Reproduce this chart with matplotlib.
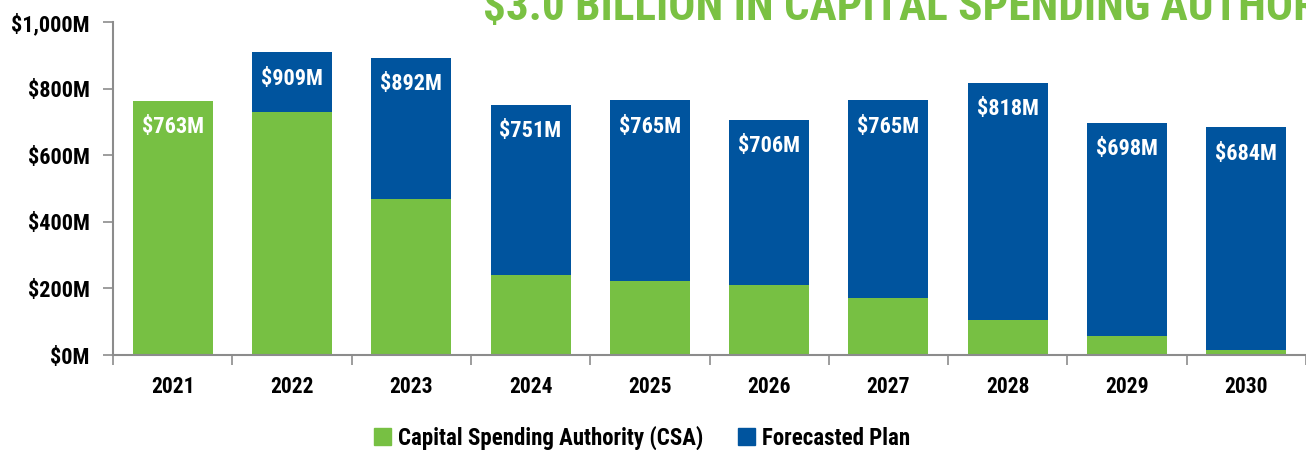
import matplotlib.pyplot as plt
import numpy as np
from matplotlib.ticker import FuncFormatter, FixedLocator
from matplotlib.patches import Patch
from matplotlib import font_manager

years = ["2021", "2022", "2023", "2024", "2025", "2026", "2027", "2028", "2029", "2030"]
totals = [763, 909, 892, 751, 765, 706, 765, 818, 698, 684]
csa = [763, 730, 467, 240, 223, 210, 171, 105, 57, 15]
forecast = [t - c for t, c in zip(totals, csa)]
value_labels = ["$763M", "$909M", "$892M", "$751M", "$765M", "$706M", "$765M", "$818M", "$698M", "$684M"]

green = "#77C043"
blue = "#00549E"
axis_gray = "#8C8C8C"

# narrow bold face, like the condensed one in the source deck
names = {f.name for f in font_manager.fontManager.ttflist}
prefs = ["Roboto Condensed", "Barlow Condensed", "Oswald", "Archivo Narrow",
         "Fira Sans Condensed", "Liberation Sans Narrow"]
fam = [n for n in prefs if n in names][:1] + ["DejaVu Sans"]
plt.rcParams["font.family"] = fam

fig = plt.figure(figsize=(13.06, 4.5), dpi=100)
ax = fig.add_axes([113 / 1306, 1 - 355 / 450, 1 - 113 / 1306, (355 - 22) / 450])

x = np.arange(len(years))
ax.bar(x, csa, width=0.67, color=green, label="Capital Spending Authority (CSA)")
ax.bar(x, forecast, width=0.67, bottom=csa, color=blue, label="Forecasted Plan")

for xi, t, lab in zip(x, totals, value_labels):
    ax.annotate(lab, (xi, t), xytext=(0, -11), textcoords="offset points",
                ha="center", va="top", color="white", fontsize=16,
                fontweight="bold")

ax.set_xlim(-0.5, len(years) - 0.5)
ax.set_ylim(0, 1000)
ax.yaxis.set_major_locator(FixedLocator([0, 200, 400, 600, 800, 1000]))
ax.yaxis.set_major_formatter(FuncFormatter(lambda v, p: "${:,.0f}M".format(v)))
ax.set_xticks(x)
ax.set_xticklabels(years)
ax.set_xticks(np.arange(-0.5, len(years), 1.0), minor=True)
ax.tick_params(axis="x", which="major", length=0, pad=15)
ax.tick_params(axis="x", which="minor", length=7, color=axis_gray, width=1.2)
ax.tick_params(axis="y", length=7, color=axis_gray, width=1.2, pad=10)
for lab in ax.get_xticklabels():
    lab.set_fontweight("bold")
    lab.set_fontsize(15.5)
for lab in ax.get_yticklabels():
    lab.set_fontweight("bold")
    lab.set_fontsize(16)

for s in ["top", "right"]:
    ax.spines[s].set_visible(False)
for s in ["left", "bottom"]:
    ax.spines[s].set_color(axis_gray)
    ax.spines[s].set_linewidth(1.5)

fig.text(483 / 1306, 1 - 20 / 450, "$3.0 BILLION IN CAPITAL SPENDING AUTHORITY",
         color="#7AC143", fontsize=32.5, fontweight="bold",
         ha="left", va="baseline")

handles = [Patch(color=green, label="Capital Spending Authority (CSA)"),
           Patch(color=blue, label="Forecasted Plan")]
fig.legend(handles=handles, loc="center", bbox_to_anchor=(642 / 1306, 1 - 438 / 450),
           ncol=2, frameon=False, handlelength=0.75, handleheight=0.75,
           handletextpad=0.3, columnspacing=1.5,
           prop={"weight": "bold", "size": 16.5})

fig.savefig("out.png", dpi=100)
